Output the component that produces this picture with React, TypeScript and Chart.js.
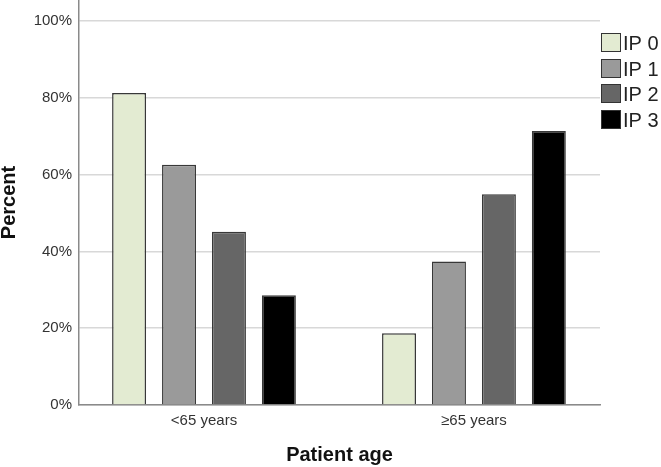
import React, { useEffect, useRef } from "react";
import { Chart, registerables } from "chart.js";

Chart.register(...registerables);

const categories = ["<65 years", "≥65 years"];
const seriesLabels = ["IP 0", "IP 1", "IP 2", "IP 3"];
const ip0 = [81.3, 18.7];
const ip1 = [62.6, 37.4];
const ip2 = [45.1, 54.9];
const ip3 = [28.6, 71.4];
const seriesValues = [ip0, ip1, ip2, ip3];
const seriesColors = ["#e3ebd2", "#9a9a9a", "#666666", "#000000"];
const yTicks = [0, 20, 40, 60, 80, 100];

const FONT = "'Liberation Sans', Arial, Helvetica, sans-serif";

const legendPlugin = {
  id: "customLegend",
  afterDraw(chart: any) {
    const ctx = chart.ctx;
    ctx.save();
    chart.data.datasets.forEach((ds: any, i: number) => {
      const x = chart.chartArea.right + 1;
      const y = Math.round(33 + i * 25.7);
      ctx.fillStyle = ds.backgroundColor;
      ctx.fillRect(x, y, 20, 19);
      ctx.strokeStyle = "#333";
      ctx.lineWidth = 1;
      ctx.strokeRect(x + 0.5, y + 0.5, 19, 18);
      ctx.fillStyle = "#222";
      ctx.font = `20px ${FONT}`;
      ctx.textBaseline = "middle";
      ctx.textAlign = "left";
      ctx.fillText(ds.label, x + 22, y + 11);
    });
    ctx.restore();
  },
};

const zeroPad = (scale: any) => {
  scale.paddingTop = 0;
  scale.paddingBottom = 0;
  scale.paddingLeft = 0;
  scale.paddingRight = 0;
};

export default function App() {
  const ref = useRef<HTMLCanvasElement>(null);
  useEffect(() => {
    document.body.style.margin = "0";
    Chart.defaults.font.family = FONT;
    const chart = new Chart(ref.current!, {
      type: "bar",
      data: {
        datasets: seriesLabels.map((label, i) => ({
          label,
          data: seriesValues[i].map((v, j) => ({ x: j, y: v })),
          backgroundColor: seriesColors[i],
          borderColor: "#383838",
          borderWidth: 1.5,
          categoryPercentage: 0.74,
          barPercentage: 0.68,
        })),
      },
      options: {
        responsive: false,
        animation: false,
        layout: { padding: { top: 0, right: 61, left: 0, bottom: 0 } },
        plugins: { legend: { display: false }, tooltip: { enabled: false } },
        scales: {
          x: {
            type: "linear",
            offset: false,
            min: -0.463,
            max: 1.467,
            grid: { display: false, drawTicks: false, offset: false },
            border: { display: true, color: "#8a8a8a", width: 1.5 },
            afterBuildTicks: (scale: any) => {
              scale.ticks = categories.map((_, i) => ({ value: i }));
            },
            afterFit: (scale: any) => {
              scale.height = 62;
              zeroPad(scale);
            },
            ticks: {
              padding: 7,
              color: "#333",
              font: { size: 15 },
              maxRotation: 0,
              autoSkip: false,
              callback: (v: any) => categories[v as number] ?? "",
            },
            title: {
              display: true,
              text: "Patient age",
              color: "#111",
              font: { size: 20, weight: "bold" },
              padding: { top: 0, bottom: 0 },
            },
          },
          y: {
            min: 0,
            max: 105.5,
            grid: { color: "#d8d8d8", lineWidth: 1.5, drawTicks: false },
            border: { display: true, color: "#8a8a8a", width: 1.5 },
            afterBuildTicks: (scale: any) => {
              scale.ticks = yTicks.map((v) => ({ value: v }));
            },
            afterFit: (scale: any) => {
              scale.width = 79;
              zeroPad(scale);
            },
            ticks: {
              padding: 7,
              color: "#333",
              font: { size: 15 },
              callback: (v: any) => `${v}%`,
            },
            title: {
              display: true,
              text: "Percent",
              color: "#111",
              font: { size: 20, weight: "bold", lineHeight: 0.9 },
              padding: { top: 0, bottom: 0 },
            },
          },
        },
      },
      plugins: [legendPlugin],
    } as any);
    return () => chart.destroy();
  }, []);
  return (
    <div style={{ width: 661, height: 467 }}>
      <canvas ref={ref} width={661} height={467} />
    </div>
  );
}
